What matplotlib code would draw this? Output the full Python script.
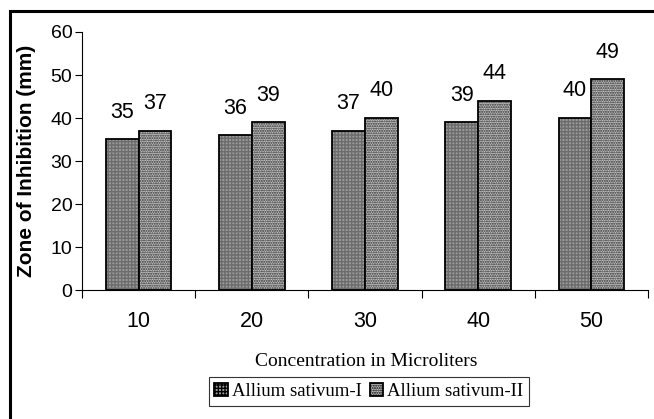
import numpy as np
import matplotlib.pyplot as plt
from matplotlib.patches import Rectangle, Patch

concentrations = ['10', '20', '30', '40', '50']
sativum_1 = [35, 36, 37, 39, 40]
sativum_2 = [37, 39, 40, 44, 49]
series_names = ['Allium sativum-I', 'Allium sativum-II']

W, H = 654, 419
fig = plt.figure(figsize=(W / 100, H / 100), dpi=100)
ax = fig.add_axes([82 / W, 1 - 290 / H, (648 - 82) / W, (290 - 32) / H])

x = np.arange(len(concentrations))
bw = 0.29

# patterned fill first, then black outlines on top
styles = [('#9c9c9c', '+++++', '#6c6c6c'), ('#c4c4c4', '.......', '#2a2a2a')]
for i, vals in enumerate([sativum_1, sativum_2]):
    pos = x + (i - 0.5) * bw
    face, hatch, hcol = styles[i]
    ax.bar(pos, vals, bw, color=face, hatch=hatch, edgecolor=hcol, linewidth=0)
    ax.bar(pos, vals, bw, fill=False, edgecolor='black', linewidth=1.3)
    for p, v in zip(pos, vals):
        ax.annotate(str(v), (p, v), xytext=(0, 12), textcoords='offset points',
                    ha='center', va='bottom', fontsize=15.5, family='Liberation Sans')

ax.set_xlim(-0.5, len(concentrations) - 0.5)
ax.set_ylim(0, 60)
ax.set_yticks(range(0, 61, 10))
ax.set_xticks(x)
ax.set_xticklabels(concentrations, fontsize=15.5, family='Liberation Sans')
ax.set_xticks(np.arange(-0.5, len(concentrations)), minor=True)
ax.tick_params(axis='x', which='major', length=0, pad=15)
ax.tick_params(axis='x', which='minor', length=6, width=0.8, direction='out')
ax.tick_params(axis='y', length=5, width=0.8, labelsize=14, pad=2)
for lab in ax.get_yticklabels():
    lab.set_family('Liberation Sans')
for s in ['top', 'right']:
    ax.spines[s].set_visible(False)
for s in ['left', 'bottom']:
    ax.spines[s].set_linewidth(0.8)

fig.text(27 / W, 1 - 161 / H, 'Zone of Inhibition (mm)', rotation=90, ha='center', va='center',
         fontsize=15, fontweight='bold', family='Liberation Sans')
fig.text(366 / W, 1 - 361 / H, 'Concentration in Microliters', ha='center', va='center',
         fontsize=14, family='Liberation Serif')

handles = [Patch(facecolor=styles[i][0], hatch=styles[i][1], edgecolor='black', linewidth=1.3)
           for i in range(2)]
leg = fig.legend(handles, series_names, loc='center', bbox_to_anchor=(369 / W, 1 - 391.5 / H),
                 ncol=2, frameon=True, fancybox=False, edgecolor='black',
                 prop={'family': 'Liberation Serif', 'size': 13.5},
                 handlelength=0.7, handleheight=0.7, handletextpad=0.25, columnspacing=0.4,
                 borderpad=0.3, borderaxespad=0)
leg.get_frame().set_linewidth(0.8)

# outer chart border (only left and top visible, rest cropped)
fig.patches.append(Rectangle((9.5 / W, -0.2), 2, 1.2 - 10.5 / H, transform=fig.transFigure,
                             fill=False, edgecolor='black', linewidth=2.2))

fig.savefig('out.png', dpi=100)
